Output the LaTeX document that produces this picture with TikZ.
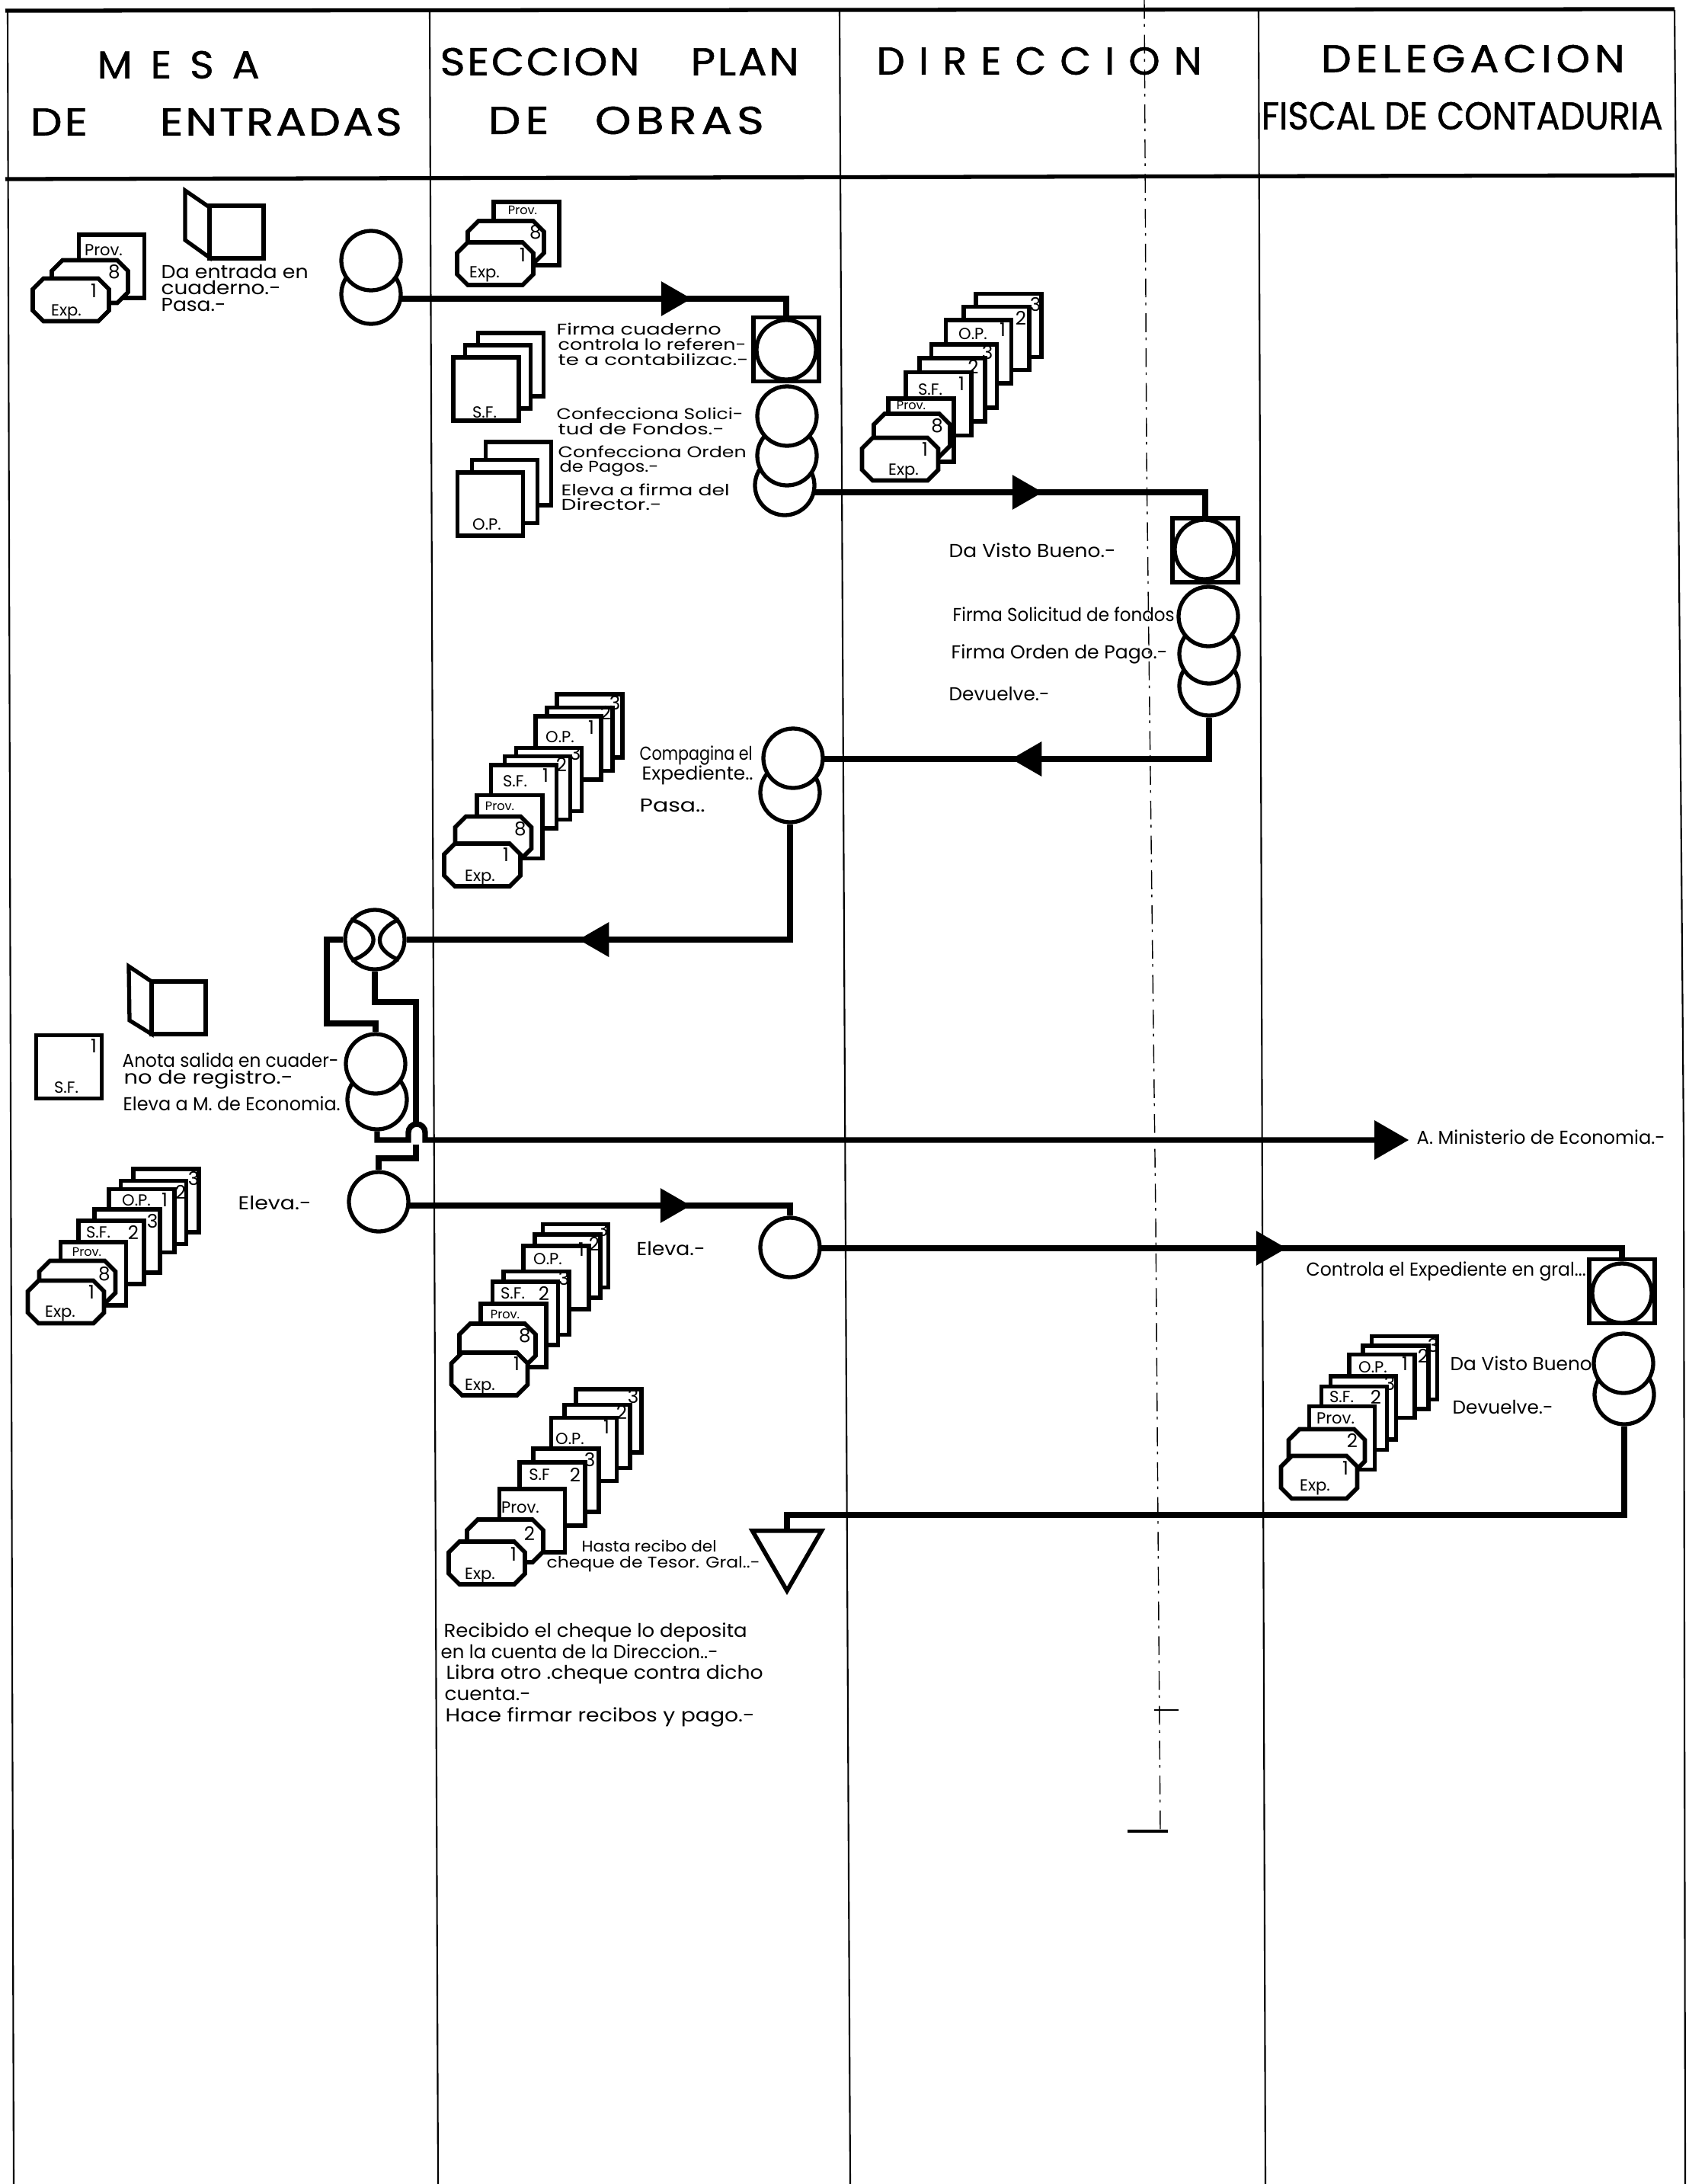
\documentclass[tikz,border=0pt]{standalone}
\usepackage{fontspec}
\setmainfont{Poppins}
\usetikzlibrary{shapes.geometric,backgrounds}
\newcommand{\fitw}[2]{\resizebox{#1cm}{\height}{#2}}
\newcommand{\headw}[3]{\resizebox{#1cm}{\height}{\addfontfeature{LetterSpace=#2,FakeBold=1}#3}}
\tikzset{
  rule/.style={line width=0.6pt},
  headrule/.style={line width=1.5pt},
  flowline/.style={line width=2.1pt,line join=miter},
  sheet/.style={rectangle,draw,fill=white,line width=1.6pt,inner sep=0pt,minimum width=0.86cm,minimum height=0.83cm},
  pics/expsheet/.style={code={
    \draw[fill=white,line width=1.6pt] (-0.50,-0.14) -- (-0.50,0.14) -- (-0.36,0.28) -- (0.36,0.28) -- (0.50,0.14) -- (0.50,-0.14) -- (0.36,-0.28) -- (-0.36,-0.28) -- cycle;
  }},
  circ/.style={circle,draw,fill=white,line width=1.5pt,inner sep=0pt,minimum size=0.78cm},
  ctrlbox/.style={rectangle,draw,fill=white,line width=1.5pt,inner sep=0pt,minimum width=0.86cm,minimum height=0.84cm},
  arrE/.style={regular polygon,regular polygon sides=3,shape border rotate=-90,fill=black,inner sep=0pt,minimum size=0.53cm},
  arrW/.style={regular polygon,regular polygon sides=3,shape border rotate=90,fill=black,inner sep=0pt,minimum size=0.53cm},
  hand/.style={anchor=west,inner sep=0pt,font=\fontsize{7}{8}\selectfont},
  handsm/.style={anchor=west,inner sep=0pt,font=\fontsize{5.8}{7}\selectfont},
  head/.style={anchor=west,inner sep=0pt,font=\fontsize{14.5}{16}\selectfont},
  tag/.style={inner sep=0pt,font=\fontsize{6}{7}\selectfont},
  tagsm/.style={inner sep=0pt,font=\fontsize{4.6}{5}\selectfont},
  num/.style={inner sep=0pt,font=\fontsize{7}{8}\selectfont}
}
\begin{document}
\begin{tikzpicture}[x=1cm,y=1cm]
\useasboundingbox (0,0) rectangle (22.16,-28.66);

% columns and head of the form
\draw[rule] (0.10,-0.13) -- (0.18,-28.66);
\draw[rule] (5.64,-0.13) -- (5.75,-28.66);
\draw[rule] (11.02,-0.13) -- (11.16,-28.66);
\draw[rule] (16.52,-0.13) -- (16.61,-28.66);
\draw[rule] (21.98,-0.13) -- (22.10,-15.00) -- (22.12,-28.66);
\draw[headrule] (0.07,-0.14) -- (21.98,-0.12);
\draw[headrule] (0.07,-2.35) -- (21.98,-2.30);

% fold of the sheet
\draw[line width=0.4pt,dash pattern=on 7pt off 2pt on 1pt off 3pt] (15.02,0) -- (15.05,-6.00) -- (15.17,-16.00) -- (15.23,-24.03);
\draw[line width=0.4pt] (15.15,-22.44) -- (15.47,-22.44);
\draw[line width=1pt] (14.80,-24.03) -- (15.33,-24.03);

\node[head] (hMesa) at (1.27,-0.85) {\headw{2.13}{45}{MESA}};
\node[head] (hEntradas) at (0.39,-1.60) {\headw{4.88}{5}{DE\hspace{1.6em}ENTRADAS}};
\node[head] (hSeccion) at (5.77,-0.81) {\headw{4.71}{5}{SECCION\hspace{1.2em}PLAN}};
\node[head] (hObras) at (6.40,-1.58) {\headw{3.62}{10}{DE\hspace{1em}OBRAS}};
\node[head] (hDireccion) at (11.50,-0.80) {\headw{4.27}{35}{DIRECCION}};
\node[head] (hDelegacion) at (17.33,-0.77) {\headw{3.99}{10}{DELEGACION}};
\node[head] (hFiscal) at (16.55,-1.52) {\headw{5.27}{0}{FISCAL DE CONTADURIA}};

% mesa de entradas, first pass
\node[sheet] (a1) at (1.465,-3.495) {};
\pic (a2) at (1.18,-3.695) {expsheet};
\pic (a3) at (0.93,-3.935) {expsheet};
\node[tag] (a1t) at (1.36,-3.28) {Prov.};
\node[num] (a2t) at (1.50,-3.57) {8};
\node[num] (a3n) at (1.23,-3.82) {1};
\node[tag] (a3t) at (0.87,-4.10) {Exp.};
\draw[line width=1.5pt,fill=white] (2.43,-2.50) -- (2.75,-2.72) -- (2.75,-3.38) -- (2.43,-3.15) -- cycle;
\draw[line width=1.5pt,fill=white] (2.75,-2.70) rectangle (3.46,-3.39);
\node[hand] (ta1) at (2.11,-3.56) {\fitw{1.93}{Da entrada en}};
\node[hand] (ta2) at (2.11,-3.77) {\fitw{1.57}{cuaderno.-}};
\node[hand] (ta3) at (2.11,-4.00) {\fitw{0.85}{Pasa.-}};
\node[circ] (cA2) at (4.87,-3.86) {};
\node[circ] (cA1) at (4.87,-3.42) {};

% seccion plan de obras, first pass
\node[sheet] (b1) at (6.91,-3.065) {};
\pic (b2) at (6.64,-3.18) {expsheet};
\pic (b3) at (6.50,-3.46) {expsheet};
\node[tagsm] (b1t) at (6.86,-2.76) {Prov.};
\node[num] (b2t) at (7.03,-3.05) {8};
\node[num] (b3n) at (6.86,-3.35) {1};
\node[tag] (b3t) at (6.36,-3.60) {Exp.};
\node[sheet] (sf1) at (6.705,-4.785) {};
\node[sheet] (sf2) at (6.535,-4.945) {};
\node[sheet] (sf3) at (6.38,-5.105) {};
\node[tag] (sf3t) at (6.36,-5.41) {S.F.};
\node[sheet] (op1) at (6.805,-6.215) {};
\node[sheet] (op2) at (6.625,-6.45) {};
\node[sheet] (op3) at (6.435,-6.615) {};
\node[tag] (op3t) at (6.39,-6.88) {O.P.};
\node[handsm] (tb1) at (7.30,-4.32) {\fitw{2.16}{Firma cuaderno}};
\node[handsm] (tb2) at (7.32,-4.52) {\fitw{2.47}{controla lo referen-}};
\node[handsm] (tb3) at (7.32,-4.72) {\fitw{2.50}{te a contabilizac.-}};
\node[handsm] (tb4) at (7.30,-5.43) {\fitw{2.45}{Confecciona Solici-}};
\node[handsm] (tb5) at (7.32,-5.63) {\fitw{2.18}{tud de Fondos.-}};
\node[handsm] (tb6) at (7.32,-5.93) {\fitw{2.47}{Confecciona Orden}};
\node[handsm] (tb7) at (7.34,-6.15) {\fitw{1.30}{de Pagos.-}};
\node[handsm] (tb8) at (7.36,-6.43) {\fitw{2.21}{Eleva a firma del}};
\node[handsm] (tb9) at (7.36,-6.62) {\fitw{1.32}{Director.-}};
\node[ctrlbox] (firmaBox) at (10.32,-4.585) {};
\node[circ] (cB1) at (10.32,-4.59) {};
\node[circ] (cB4) at (10.30,-6.37) {};
\node[circ] (cB3) at (10.33,-5.98) {};
\node[circ] (cB2) at (10.33,-5.46) {};

% direccion
\node[sheet] (d1) at (13.24,-4.27) {};
\node[sheet] (d2) at (13.08,-4.44) {};
\node[sheet] (d3) at (12.845,-4.615) {};
\node[sheet] (d4) at (12.655,-4.935) {};
\node[sheet] (d5) at (12.50,-5.115) {};
\node[sheet] (d6) at (12.32,-5.30) {};
\node[sheet] (d7) at (12.09,-5.645) {};
\pic (d8) at (11.97,-5.71) {expsheet};
\pic (d9) at (11.815,-6.025) {expsheet};
\node[num] (d1n) at (13.59,-3.99) {3};
\node[num] (d2n) at (13.40,-4.17) {2};
\node[tag] (d3t) at (12.77,-4.38) {O.P.};
\node[num] (d3n) at (13.16,-4.33) {1};
\node[num] (d4n) at (12.96,-4.62) {3};
\node[num] (d5n) at (12.775,-4.81) {2};
\node[tag] (d6t) at (12.21,-5.11) {S.F.};
\node[num] (d6n) at (12.62,-5.04) {1};
\node[tagsm] (d7t) at (11.96,-5.32) {Prov.};
\node[num] (d8n) at (12.30,-5.59) {8};
\node[num] (d9n) at (12.14,-5.90) {1};
\node[tag] (d9t) at (11.86,-6.19) {Exp.};
\node[hand] (td1) at (12.45,-7.22) {\fitw{2.19}{Da Visto Bueno.-}};
\node[hand] (td2) at (12.50,-8.06) {\fitw{2.91}{Firma Solicitud de fondos}};
\node[hand] (td3) at (12.48,-8.58) {\fitw{2.84}{Firma Orden de Pago.-}};
\node[hand] (td4) at (12.45,-9.10) {\fitw{1.32}{Devuelve.-}};
\node[ctrlbox] (vistoBox) at (15.82,-7.22) {};
\node[circ] (cD1) at (15.81,-7.21) {};
\node[circ] (cD4) at (15.87,-9.00) {};
\node[circ] (cD3) at (15.87,-8.58) {};
\node[circ] (cD2) at (15.86,-8.09) {};

% seccion, second pass
\node[sheet] (e1) at (7.74,-9.525) {};
\node[sheet] (e2) at (7.61,-9.70) {};
\node[sheet] (e3) at (7.46,-9.815) {};
\node[sheet] (e4) at (7.205,-10.23) {};
\node[sheet] (e5) at (7.055,-10.34) {};
\node[sheet] (e6) at (6.875,-10.455) {};
\node[sheet] (e7) at (6.69,-10.85) {};
\pic (e8) at (6.475,-10.995) {expsheet};
\pic (e9) at (6.33,-11.35) {expsheet};
\node[num] (e1n) at (8.07,-9.22) {3};
\node[num] (e2n) at (7.95,-9.35) {2};
\node[tag] (e3t) at (7.35,-9.67) {O.P.};
\node[num] (e3n) at (7.76,-9.55) {1};
\node[num] (e4n) at (7.55,-9.88) {3};
\node[num] (e5n) at (7.37,-10.03) {2};
\node[tag] (e6t) at (6.76,-10.25) {S.F.};
\node[num] (e6n) at (7.16,-10.18) {1};
\node[tagsm] (e7t) at (6.56,-10.58) {Prov.};
\node[num] (e8n) at (6.83,-10.88) {8};
\node[num] (e9n) at (6.64,-11.22) {1};
\node[tag] (e9t) at (6.30,-11.52) {Exp.};
\node[hand] (te1) at (8.39,-9.91) {\fitw{1.48}{Compagina el}};
\node[hand] (te2) at (8.42,-10.17) {\fitw{1.46}{Expediente..}};
\node[hand] (te3) at (8.39,-10.57) {\fitw{0.86}{Pasa..}};
\node[circ] (cE2) at (10.37,-10.40) {};
\node[circ] (cE1) at (10.41,-9.95) {};

% mesa de entradas, second pass
\node[circ] (ball) at (4.92,-12.33) {};
\draw[line width=1.5pt] (ball.140) .. controls (5.00,-12.20) and (5.00,-12.46) .. (ball.222);
\draw[line width=1.5pt] (ball.40) .. controls (4.90,-12.22) and (4.90,-12.46) .. (ball.320);
\node[sheet] (sfm) at (0.905,-14.00) {};
\node[num] (sfmn) at (1.23,-13.73) {1};
\node[tag] (sfmt) at (0.87,-14.27) {S.F.};
\draw[line width=1.5pt,fill=white] (1.69,-12.68) -- (1.99,-12.88) -- (1.99,-13.57) -- (1.70,-13.39) -- cycle;
\draw[line width=1.5pt,fill=white] (1.99,-12.88) rectangle (2.70,-13.57);
\node[hand] (tf1) at (1.60,-13.91) {\fitw{2.84}{Anota salida en cuader-}};
\node[hand] (tf2) at (1.62,-14.16) {\fitw{2.22}{no de registro.-}};
\node[hand] (tf3) at (1.61,-14.48) {\fitw{2.85}{Eleva a M. de Economia.}};
\node[circ] (cF2) at (4.95,-14.43) {};
\node[circ] (cF1) at (4.93,-13.96) {};
\node[sheet] (f1) at (2.18,-15.755) {};
\node[sheet] (f2) at (2.015,-15.91) {};
\node[sheet] (f3) at (1.86,-16.02) {};
\node[sheet] (f4) at (1.67,-16.285) {};
\node[sheet] (f5) at (1.46,-16.435) {};
\node[sheet] (f6) at (1.225,-16.715) {};
\pic (f7) at (1.015,-16.825) {expsheet};
\pic (f8) at (0.865,-17.085) {expsheet};
\node[num] (f1n) at (2.54,-15.46) {3};
\node[num] (f2n) at (2.37,-15.64) {2};
\node[tag] (f3t) at (1.79,-15.75) {O.P.};
\node[num] (f3n) at (2.16,-15.75) {1};
\node[num] (f4n) at (2.00,-16.02) {3};
\node[tag] (f5t) at (1.29,-16.17) {S.F.};
\node[num] (f5n) at (1.75,-16.17) {2};
\node[tagsm] (f6t) at (1.14,-16.43) {Prov.};
\node[num] (f7n) at (1.37,-16.72) {8};
\node[num] (f8n) at (1.20,-16.96) {1};
\node[tag] (f8t) at (0.79,-17.24) {Exp.};
\node[hand] (tf4) at (3.12,-15.78) {\fitw{0.96}{Eleva.-}};
\node[circ] (cF3) at (4.97,-15.77) {};

% seccion, third pass
\node[sheet] (g1) at (7.555,-16.48) {};
\node[sheet] (g2) at (7.45,-16.615) {};
\node[sheet] (g3) at (7.30,-16.765) {};
\node[sheet] (g4) at (7.04,-17.10) {};
\node[sheet] (g5) at (6.895,-17.235) {};
\node[sheet] (g6) at (6.74,-17.525) {};
\pic (g7) at (6.53,-17.65) {expsheet};
\pic (g8) at (6.425,-18.03) {expsheet};
\node[num] (g1n) at (7.91,-16.13) {3};
\node[num] (g2n) at (7.80,-16.32) {2};
\node[tag] (g3t) at (7.19,-16.52) {O.P.};
\node[num] (g3n) at (7.63,-16.40) {1};
\node[num] (g4n) at (7.40,-16.77) {3};
\node[tag] (g5t) at (6.73,-16.97) {S.F.};
\node[num] (g5n) at (7.14,-16.97) {2};
\node[tagsm] (g6t) at (6.63,-17.25) {Prov.};
\node[num] (g7n) at (6.89,-17.53) {8};
\node[num] (g8n) at (6.78,-17.90) {1};
\node[tag] (g8t) at (6.30,-18.20) {Exp.};
\node[hand] (tg1) at (8.35,-16.38) {\fitw{0.90}{Eleva.-}};
\node[circ] (cG1) at (10.37,-16.37) {};

% seccion, fourth pass
\node[sheet] (h1) at (7.99,-18.645) {};
\node[sheet] (h2) at (7.84,-18.85) {};
\node[sheet] (h3) at (7.665,-19.02) {};
\node[sheet] (h4) at (7.43,-19.425) {};
\node[sheet] (h5) at (7.25,-19.605) {};
\node[sheet] (h6) at (6.985,-19.955) {};
\pic (h7) at (6.63,-20.22) {expsheet};
\pic (h8) at (6.39,-20.51) {expsheet};
\node[num] (h1n) at (8.31,-18.32) {3};
\node[num] (h2n) at (8.16,-18.53) {2};
\node[tag] (h3t) at (7.48,-18.88) {O.P.};
\node[num] (h3n) at (7.96,-18.73) {1};
\node[num] (h4n) at (7.74,-19.15) {3};
\node[tag] (h5t) at (7.08,-19.35) {S.F};
\node[num] (h5n) at (7.55,-19.35) {2};
\node[tag] (h6t) at (6.83,-19.78) {Prov.};
\node[num] (h7n) at (6.95,-20.12) {2};
\node[num] (h8n) at (6.74,-20.40) {1};
\node[tag] (h8t) at (6.30,-20.68) {Exp.};
\node[handsm] (th1) at (7.63,-20.29) {\fitw{1.77}{Hasta recibo del}};
\node[handsm] (th2) at (7.17,-20.53) {\fitw{2.80}{cheque de Tesor. Gral..-}};
\node[regular polygon,regular polygon sides=3,shape border rotate=180,draw,fill=white,line width=1.6pt,inner sep=0pt,minimum size=1.05cm] (endTri) at (10.33,-20.35) {};
\node[hand] (th3) at (5.82,-21.42) {\fitw{3.98}{Recibido el cheque lo deposita}};
\node[hand] (th4) at (5.78,-21.67) {\fitw{3.64}{en la cuenta de la Direccion..-}};
\node[hand] (th5) at (5.85,-21.97) {\fitw{4.16}{Libra otro .cheque contra dicho}};
\node[hand] (th6) at (5.83,-22.23) {\fitw{1.13}{cuenta.-}};
\node[hand] (th7) at (5.84,-22.53) {\fitw{4.06}{Hace firmar recibos y pago.-}};

% delegacion fiscal
\node[sheet] (k1) at (18.435,-17.95) {};
\node[sheet] (k2) at (18.32,-18.075) {};
\node[sheet] (k3) at (18.14,-18.19) {};
\node[sheet] (k4) at (17.895,-18.475) {};
\node[sheet] (k5) at (17.775,-18.61) {};
\node[sheet] (k6) at (17.615,-18.87) {};
\pic (k7) at (17.415,-19.035) {expsheet};
\pic (k8) at (17.315,-19.385) {expsheet};
\node[num] (k1n) at (18.81,-17.65) {3};
\node[num] (k2n) at (18.68,-17.79) {2};
\node[tag] (k3t) at (18.02,-17.94) {O.P.};
\node[num] (k3n) at (18.44,-17.90) {1};
\node[num] (k4n) at (18.24,-18.15) {3};
\node[tag] (k5t) at (17.61,-18.33) {S.F.};
\node[num] (k5n) at (18.06,-18.33) {2};
\node[tag] (k6t) at (17.53,-18.61) {Prov.};
\node[num] (k7n) at (17.75,-18.90) {2};
\node[num] (k8n) at (17.66,-19.27) {1};
\node[tag] (k8t) at (17.26,-19.52) {Exp.};
\node[hand] (tk1) at (17.14,-16.68) {\fitw{3.67}{Controla el Expediente en gral...}};
\node[hand] (tk2) at (19.03,-17.89) {\fitw{1.86}{Da Visto Bueno}};
\node[hand] (tk3) at (19.06,-18.46) {\fitw{1.32}{Devuelve.-}};
\node[ctrlbox] (ctrlFiscal) at (21.29,-16.945) {};
\node[circ] (cK1) at (21.29,-16.97) {};
\node[circ] (cK3) at (21.32,-18.30) {};
\node[circ] (cK2) at (21.31,-17.89) {};

% arrow heads and the loose ends of the lines
\node[arrE] (arrA) at (8.81,-3.92) {};
\node[arrE] (arrB) at (13.42,-6.46) {};
\node[arrW] (arrC) at (13.54,-9.96) {};
\node[arrW] (arrD) at (7.86,-12.33) {};
\node[arrE,minimum size=0.60cm] (arrE1) at (18.19,-14.96) {};
\node[arrE] (arrF) at (8.80,-15.82) {};
\node[arrE] (arrG) at (16.62,-16.38) {};
\node[hand] (tMin) at (18.59,-14.92) {\fitw{3.26}{A. Ministerio de Economia.-}};
\coordinate (kneeA) at (4.29,-13.43);
\coordinate (kneeB) at (5.46,-13.15);
\coordinate (hopUp) at (5.46,-14.78);
\coordinate (hopLow) at (5.46,-15.02);
\coordinate (kneeC) at (5.46,-15.20);
\coordinate (hopA) at (5.36,-14.96);
\coordinate (hopB) at (5.36,-14.86);
\coordinate (hopC) at (5.58,-14.96);
\coordinate (kneeD) at (10.33,-19.88);

% flow lines, under the symbols
\begin{scope}[on background layer]
\draw[flowline] (cA2 |- arrA) -- (arrA.center) -| (firmaBox);
\draw[flowline] (cB4 |- arrB) -- (arrB.center) -| (vistoBox);
\draw[flowline] (cD4) |- (arrC.center) -- (cE1 |- arrC);
\draw[flowline] (cE2) |- (arrD.center) -- (ball);
\draw[flowline] (ball) -| (kneeA) -| (cF1);
\draw[flowline] (ball) |- (kneeB) -- (hopUp);
\draw[flowline] (hopLow) -- (kneeC) -| (cF3);
\draw[flowline] (cF2) |- (hopA) -- (hopB) arc[start angle=180,end angle=0,radius=0.11] -- (hopC) -- (arrE1.center);
\draw[flowline] (cF3 |- arrF) -- (arrF.center) -| (cG1);
\draw[flowline] (cG1 |- arrG) -- (arrG.center) -| (ctrlFiscal);
\draw[flowline] (cK3) |- (kneeD) -- (endTri);
\end{scope}
\end{tikzpicture}
\end{document}
